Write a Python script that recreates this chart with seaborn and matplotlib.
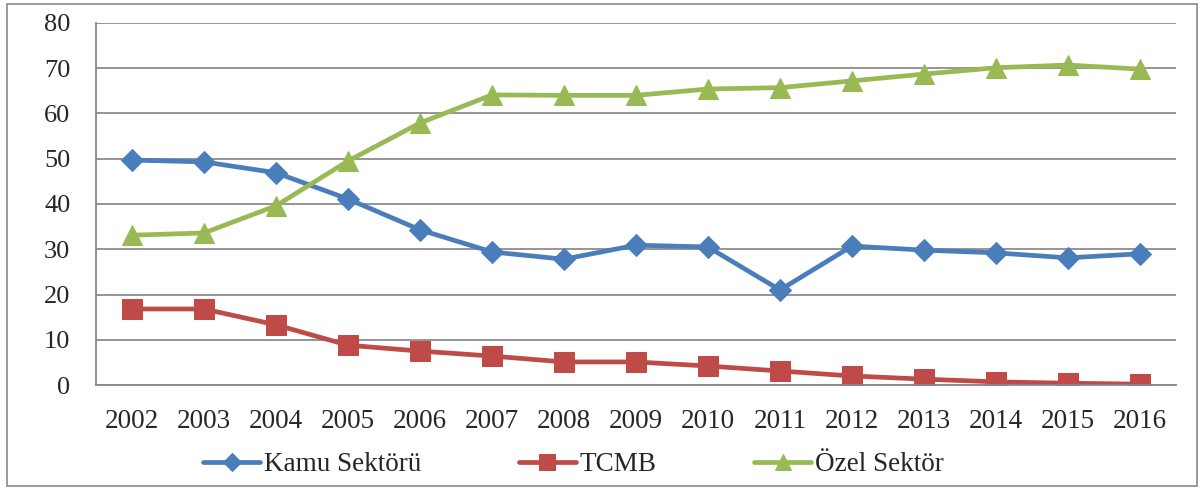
import numpy as np
import pandas as pd
import seaborn as sb
import matplotlib.pyplot as plt
from matplotlib.patches import Rectangle

years = ['2002', '2003', '2004', '2005', '2006', '2007', '2008', '2009',
         '2010', '2011', '2012', '2013', '2014', '2015', '2016']
kamu = [49.7, 49.3, 46.9, 41.1, 34.3, 29.4, 27.8, 30.9, 30.5, 21.0, 30.7, 29.8, 29.2, 28.1, 29.0]
tcmb = [16.8, 16.8, 13.3, 8.8, 7.5, 6.4, 5.1, 5.1, 4.2, 3.1, 2.0, 1.3, 0.7, 0.4, 0.2]
ozel = [33.1, 33.6, 39.6, 49.5, 57.9, 64.1, 64.0, 64.0, 65.4, 65.7, 67.2, 68.7, 70.1, 70.7, 69.8]

series = ['Kamu Sektörü', 'TCMB', 'Özel Sektör']
colors = ['#4A7EBB', '#BE4B48', '#98B954']
markers = ['D', 's', '^']
msizes = [11.5, 14, 14]

sb.set_style('white')
plt.rcParams['font.family'] = ['Liberation Serif', 'DejaVu Serif']

fig = plt.figure(figsize=(12, 4.88), dpi=100)
ax = fig.add_axes([0.08, 0.211, 0.9, 0.742])

x = np.arange(len(years))
for name, vals, c, m, ms in zip(series, [kamu, tcmb, ozel], colors, markers, msizes):
    df = pd.DataFrame({'x': x, 'y': vals})
    sb.lineplot(data=df, x='x', y='y', ax=ax, color=c, lw=3.4, marker=m,
                markersize=ms, markeredgecolor=c, label=name)

ax.set_xlim(-0.5, len(years) - 0.5)
ax.set_ylim(0, 80)
ax.set_yticks(range(0, 81, 10))
ax.set_xticks(x)
ax.set_xticklabels(years)
ax.set_xticks(np.arange(-0.5, len(years)), minor=True)
ax.tick_params(axis='x', which='major', length=0, pad=17, labelsize=19.5)
ax.tick_params(axis='x', which='minor', length=7, width=1.2, color='#888888', direction='out')
ax.tick_params(axis='y', length=6.5, width=1.2, color='#888888', direction='out', labelsize=19, pad=12)
ax.yaxis.grid(True, color='#8c8c8c', lw=1.3)
ax.set_axisbelow(True)
for s in ['top', 'right']:
    ax.spines[s].set_visible(False)
for s in ['left', 'bottom']:
    ax.spines[s].set_color('#888888')
    ax.spines[s].set_linewidth(1.3)
ax.set_xlabel('')
ax.set_ylabel('')

ax.get_legend().remove()
h, l = ax.get_legend_handles_labels()
fig.legend(h, l, loc='center', bbox_to_anchor=(0.478, 0.048), ncol=3, frameon=False,
           fontsize=19.5, handlelength=2.1, handletextpad=0.15, columnspacing=3.6, markerscale=0.8)

fig.patches.append(Rectangle((0.0058, 0.004), 0.9917, 0.988, transform=fig.transFigure,
                             fill=False, edgecolor='#888888', lw=1.2))

plt.savefig('out.png', dpi=100)
